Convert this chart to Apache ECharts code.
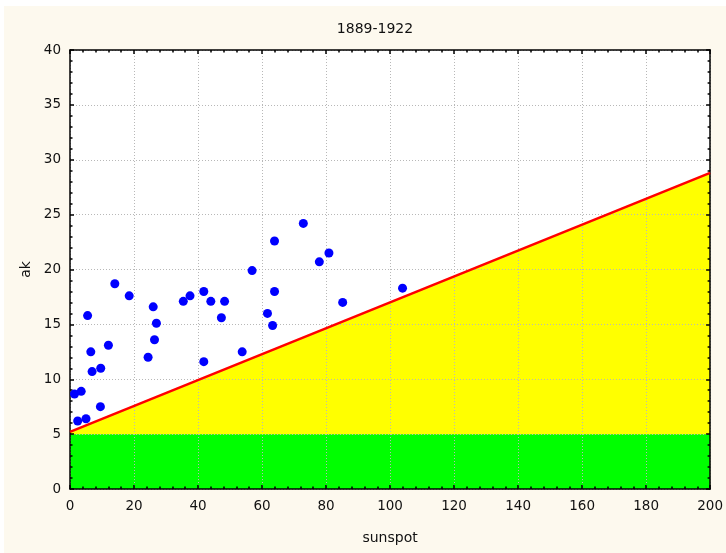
<!DOCTYPE html>
<html>
<head>
<meta charset="utf-8">
<script src="https://cdn.jsdelivr.net/npm/echarts@6/dist/echarts.min.js"></script>
<style>html,body{margin:0;padding:0;background:#fdf9ee;overflow:hidden}#c{width:726px;height:553px}</style>
</head>
<body>
<div id="c"></div>
<script>
const titleText = '1889-1922';
const xName = 'sunspot';
const yName = 'ak';
const sunspot = [1.4, 3.5, 2.4, 5.0, 5.5, 6.5, 6.9, 9.6, 9.5, 12.0, 14.0, 18.5, 24.4, 26.0, 26.4, 27.0, 35.4, 37.5, 41.8, 41.8, 44.0, 47.3, 48.3, 53.8, 56.9, 61.7, 63.3, 63.9, 63.9, 72.9, 77.9, 80.9, 85.2, 103.9];
const ak = [8.66, 8.9, 6.2, 6.4, 15.8, 12.5, 10.7, 11.0, 7.5, 13.1, 18.7, 17.6, 12.0, 16.6, 13.6, 15.1, 17.1, 17.6, 18.0, 11.6, 17.1, 15.6, 17.1, 12.5, 19.9, 16.0, 14.9, 22.6, 18.0, 24.2, 20.7, 21.5, 17.0, 18.3];
const lineX = [0, 200];
const lineY = [5.2, 28.8];
const bandX = [0, 200];
const bandY = [5, 5];
const xTicks = [0, 20, 40, 60, 80, 100, 120, 140, 160, 180, 200];
const yTicks = [0, 5, 10, 15, 20, 25, 30, 35, 40];

const scatterData = sunspot.map((v, i) => [v, ak[i]]);
const lineData = lineX.map((v, i) => [v, lineY[i]]);
const bandData = bandX.map((v, i) => [v, bandY[i]]);

const font = 'DejaVu Sans';
const axisLineStyle = { color: '#000', width: 1.5 };
const gridLine = { show: true, lineStyle: { type: [1, 2], color: '#b8b8b8', width: 1 } };

const chart = echarts.init(document.getElementById('c'), null, { renderer: 'canvas', width: 726, height: 553 });
chart.setOption({
  backgroundColor: '#fdf9ee',
  animation: false,
  graphic: [
    { type: 'rect', left: 0, top: 0, z: -10, shape: { width: 726, height: 6 }, style: { fill: '#ffffff' } },
    { type: 'rect', left: 0, top: 0, z: -10, shape: { width: 4, height: 553 }, style: { fill: '#ffffff' } }
  ],
  title: {
    text: titleText, left: 370, top: 17, textAlign: 'center',
    textStyle: { fontFamily: font, fontSize: 14, fontWeight: 'normal', color: '#111' }
  },
  grid: { left: 70, top: 50, right: 12, bottom: 64, show: true, backgroundColor: '#ffffff', borderWidth: 0 },
  xAxis: [
    {
      type: 'value', min: xTicks[0], max: xTicks[xTicks.length - 1], interval: 20, position: 'bottom', z: 3,
      name: xName, nameLocation: 'middle', nameGap: 42,
      nameTextStyle: { fontFamily: font, fontSize: 14, color: '#111' },
      axisLine: { show: true, onZero: false, lineStyle: axisLineStyle },
      axisTick: { show: true, inside: true, length: 4, lineStyle: axisLineStyle },
      minorTick: { show: true, splitNumber: 5, length: 2.5, lineStyle: { color: '#000', width: 1.5 } },
      axisLabel: { fontFamily: font, fontSize: 13.5, color: '#111', margin: 10 },
      splitLine: { show: false }
    },
    {
      type: 'value', min: xTicks[0], max: xTicks[xTicks.length - 1], interval: 20, position: 'top', z: 3,
      axisLine: { show: true, onZero: false, lineStyle: axisLineStyle },
      axisTick: { show: true, inside: true, length: 4, lineStyle: axisLineStyle },
      minorTick: { show: true, splitNumber: 5, length: 2.5, lineStyle: { color: '#000', width: 1.5 } },
      axisLabel: { show: false },
      splitLine: gridLine
    }
  ],
  yAxis: [
    {
      type: 'value', min: yTicks[0], max: yTicks[yTicks.length - 1], interval: 5, position: 'left', z: 3,
      name: yName, nameLocation: 'middle', nameGap: 36,
      nameTextStyle: { fontFamily: font, fontSize: 14, color: '#111' },
      axisLine: { show: true, onZero: false, lineStyle: axisLineStyle },
      axisTick: { show: true, inside: true, length: 4, lineStyle: axisLineStyle },
      minorTick: { show: true, splitNumber: 5, length: 2.5, lineStyle: { color: '#000', width: 1.5 } },
      axisLabel: { fontFamily: font, fontSize: 13.5, color: '#111', margin: 9 },
      splitLine: { show: false }
    },
    {
      type: 'value', min: yTicks[0], max: yTicks[yTicks.length - 1], interval: 5, position: 'right', z: 3,
      axisLine: { show: true, onZero: false, lineStyle: axisLineStyle },
      axisTick: { show: true, inside: true, length: 4, lineStyle: axisLineStyle },
      minorTick: { show: true, splitNumber: 5, length: 2.5, lineStyle: { color: '#000', width: 1.5 } },
      axisLabel: { show: false },
      splitLine: gridLine
    }
  ],
  series: [
    {
      type: 'line', data: lineData, symbol: 'none', z: 1, silent: true,
      lineStyle: { width: 0 },
      areaStyle: { color: '#ffff00', opacity: 1, origin: 'start' }
    },
    {
      type: 'line', data: bandData, symbol: 'none', z: 1, silent: true,
      lineStyle: { width: 0 },
      areaStyle: { color: '#00ff00', opacity: 1, origin: 'start' }
    },
    {
      type: 'line', data: lineData, symbol: 'none', z: 4, silent: true,
      lineStyle: { color: '#ff0000', width: 2.5 }
    },
    {
      type: 'scatter', data: scatterData, symbol: 'circle', symbolSize: 9, z: 5,
      itemStyle: { color: '#0000ff', opacity: 1 }
    }
  ]
});
</script>
</body>
</html>
